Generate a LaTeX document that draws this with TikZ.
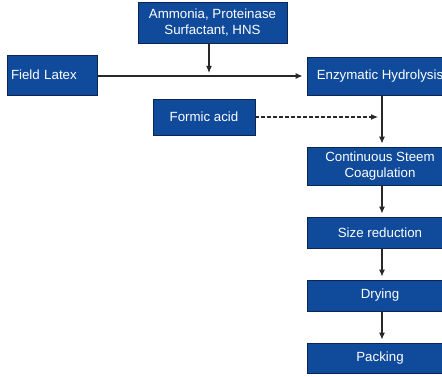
\documentclass[tikz,border=0pt]{standalone}
\usepackage{fontspec}
\setmainfont{Liberation Sans}
\usetikzlibrary{arrows.meta}
\definecolor{boxfill}{RGB}{16,74,154}
\definecolor{boxline}{RGB}{12,38,84}
\definecolor{linec}{RGB}{40,40,40}
\tikzset{
  box/.style={draw=boxline, line width=0.9pt, fill=boxfill, text=white,
    font=\fontsize{13.3}{16}\selectfont, align=center, inner sep=0pt},
  arr/.style={draw=linec, line width=1.1pt, -{Latex[length=7pt,width=6pt]}},
}
\begin{document}
\begin{tikzpicture}[x=1pt,y=-1pt]
\clip (0,0) rectangle (442,377);
\fill[white] (0,0) rectangle (442,377);
\node[box, minimum width=149pt, minimum height=41pt] (top) at (212.5,22.5) {Ammonia, Proteinase\\Surfactant, HNS};
\node[box, minimum width=90pt, minimum height=40pt, text width=82pt, align=left, inner xsep=4pt] (field) at (52,75) {Field Latex};
\node[box, minimum width=146pt, minimum height=38pt] (enzy) at (380,76) {Enzymatic Hydrolysis};
\node[box, minimum width=102pt, minimum height=36pt] (formic) at (204,117) {Formic acid};
\node[box, minimum width=146pt, minimum height=38pt] (cont) at (380,166) {Continuous Steem\\Coagulation};
\node[box, minimum width=146pt, minimum height=31pt] (size) at (380,232.5) {Size reduction};
\node[box, minimum width=146pt, minimum height=31pt] (dry) at (380,295.5) {Drying};
\node[box, minimum width=146pt, minimum height=30pt] (pack) at (380,358) {Packing};
\coordinate (j1) at (209,76);
\coordinate (j2) at (382,117);
\draw[arr, shorten >=4pt] (field.east |- j1) -- (enzy.west |- j1);
\draw[arr, shorten >=3pt] (top.south -| j1) -- (j1);
\draw[arr, shorten >=4pt, dash pattern=on 4pt off 2pt] (formic.east |- j2) -- (j2);
\draw[arr, shorten >=3pt] (enzy.south -| j2) -- (cont.north -| j2);
\draw[arr, shorten >=3pt] (cont.south -| j2) -- (size.north -| j2);
\draw[arr, shorten >=3pt] (size.south -| j2) -- (dry.north -| j2);
\draw[arr, shorten >=3pt] (dry.south -| j2) -- (pack.north -| j2);
\end{tikzpicture}
\end{document}
